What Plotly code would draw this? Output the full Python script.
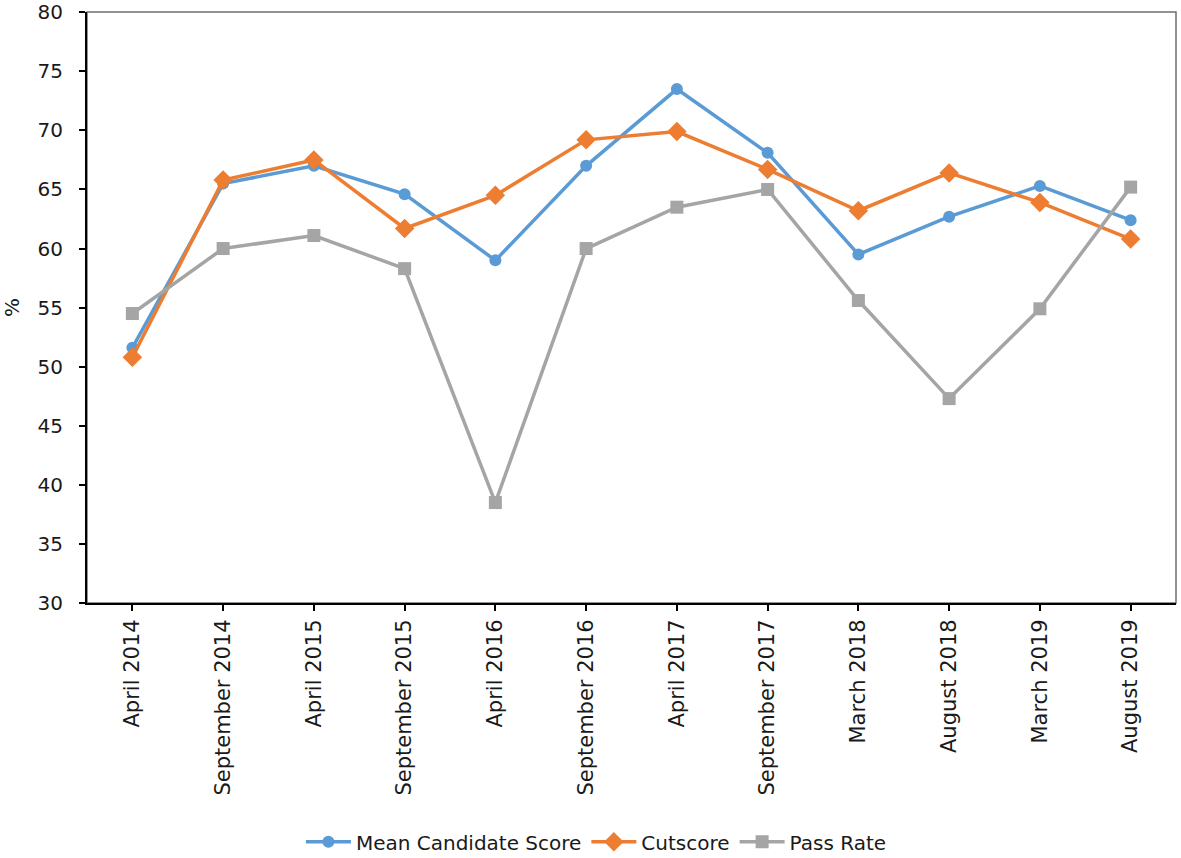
import plotly.graph_objects as go

categories = ["April 2014", "September 2014", "April 2015", "September 2015", "April 2016",
              "September 2016", "April 2017", "September 2017", "March 2018", "August 2018",
              "March 2019", "August 2019"]
mean_score = [51.6, 65.5, 67.0, 64.6, 59.0, 67.0, 73.5, 68.1, 59.5, 62.7, 65.3, 62.4]
cutscore = [50.8, 65.8, 67.5, 61.7, 64.5, 69.2, 69.9, 66.7, 63.2, 66.4, 63.9, 60.8]
pass_rate = [54.5, 60.0, 61.1, 58.3, 38.5, 60.0, 63.5, 65.0, 55.6, 47.3, 54.9, 65.2]
y_ticks = [30, 35, 40, 45, 50, 55, 60, 65, 70, 75, 80]

FONT = "DejaVu Sans"
fig = go.Figure()
fig.add_trace(go.Scatter(x=categories, y=mean_score, name="Mean Candidate Score", mode="lines+markers",
                         line=dict(color="#5B9BD5", width=3.5),
                         marker=dict(symbol="circle", size=12, color="#5B9BD5")))
fig.add_trace(go.Scatter(x=categories, y=cutscore, name="Cutscore", mode="lines+markers",
                         line=dict(color="#ED7D31", width=3.5),
                         marker=dict(symbol="diamond", size=15, color="#ED7D31")))
fig.add_trace(go.Scatter(x=categories, y=pass_rate, name="Pass Rate", mode="lines+markers",
                         line=dict(color="#A5A5A5", width=3.5),
                         marker=dict(symbol="square", size=13, color="#A5A5A5")))

fig.update_layout(
    width=1181, height=858,
    margin=dict(l=87, r=5, t=12, b=255, autoexpand=False),
    plot_bgcolor="white", paper_bgcolor="white",
    font=dict(family=FONT, size=20, color="#1a1a1a"),
    showlegend=True,
    legend=dict(orientation="h", x=0.505, xanchor="center", xref="container",
                y=0.019, yanchor="middle", yref="container",
                font=dict(family=FONT, size=20, color="#1a1a1a"),
                itemwidth=45, tracegroupgap=0),
    xaxis=dict(type="category", range=[-0.5, 11.5], tickangle=-90, automargin=False,
               showline=True, linecolor="black", linewidth=2,
               ticks="outside", ticklen=6, tickcolor="black", tickwidth=2,
               showgrid=False, mirror=False, zeroline=False,
               tickfont=dict(family=FONT, size=21)),
    yaxis=dict(range=[30, 80.02], tickvals=y_ticks, showline=True, linecolor="black", linewidth=2,
               automargin=False, ticklabelstandoff=12, ticklabeloverflow="allow",
               ticks="outside", ticklen=6, tickcolor="black", tickwidth=2,
               showgrid=False, zeroline=False,
               title=dict(text="%", font=dict(family=FONT, size=20), standoff=16),
               tickfont=dict(family=FONT, size=20)),
    shapes=[dict(type="rect", xref="paper", yref="paper", x0=0, x1=1, y0=0, y1=1,
                 line=dict(color="#6f6f6f", width=1.5), layer="below")],
)
fig.write_html("out.html", config={"displayModeBar": False},
               post_script="document.body.style.margin='0';document.body.style.overflow='hidden';")
